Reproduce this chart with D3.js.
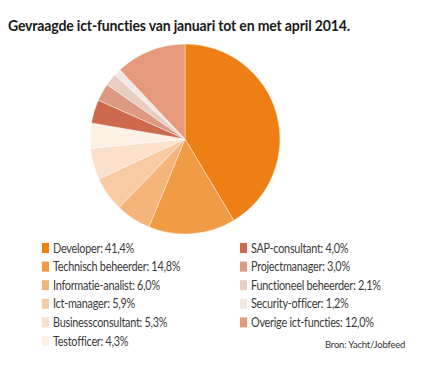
<!DOCTYPE html>
<html><head><meta charset="utf-8">
<script src="https://cdn.jsdelivr.net/npm/d3@7"></script>
<style>body{margin:0;background:#fff}svg{display:block}</style>
</head><body>
<svg id="c" width="443" height="387"></svg>
<script>
const categories = ["Developer","Technisch beheerder","Informatie-analist","Ict-manager","Businessconsultant","Testofficer","SAP-consultant","Projectmanager","Functioneel beheerder","Security-officer","Overige ict-functies"];
const values = [41.4,14.8,6.0,5.9,5.3,4.3,4.0,3.0,2.1,1.2,12.0];
const labels = ["41,4%","14,8%","6,0%","5,9%","5,3%","4,3%","4,0%","3,0%","2,1%","1,2%","12,0%"];
const colors = ["#EE7F14","#F29B45","#F5B47A","#F8CBA3","#FBE0CC","#FDF1E6","#CD6A4E","#DC9A82","#E8CDC1","#F3E8E3","#E59A7C"];

const svg = d3.select("#c");
svg.append("text").attr("transform","translate(8,31) scale(0.88,1)").attr("font-family","Lato").attr("font-weight","bold")
  .attr("font-size",16).attr("fill","#1a1a1a").attr("letter-spacing","-0.2")
  .text("Gevraagde ict-functies van januari tot en met april 2014.");

const data = categories.map((c,i)=>({c,v:values[i],l:labels[i],col:colors[i]}));
const pie = d3.pie().value(d=>d.v).sort(null);
const arc = d3.arc().innerRadius(0).outerRadius(95);
const g = svg.append("g").attr("transform","translate(185,139)");
g.selectAll("path").data(pie(data)).join("path").attr("d",arc).attr("fill",d=>d.data.col)
  .attr("stroke","#fff").attr("stroke-width",0.4);

const y = d3.scalePoint().domain(d3.range(6)).range([248,341]);
const leg = svg.append("g");
data.forEach((d,i)=>{
  const col = i<6?0:1, row = i<6?i:i-6;
  const x = col===0?42:240;
  const yy = y(row);
  leg.append("rect").attr("x",x).attr("y",yy-5).attr("width",7).attr("height",10).attr("fill",d.col);
  leg.append("text").attr("transform",`translate(${x+11},${yy+4.5}) scale(0.87,1)`).attr("font-family","Lato").attr("font-size",12.5)
    .attr("fill","#3a3a3a").attr("letter-spacing","-0.3").text(d.c+": "+d.l);
});
svg.append("text").attr("x",325).attr("y",348).attr("font-family","Lato").attr("font-size",9.5)
  .attr("fill","#333").attr("letter-spacing","-0.2").text("Bron: Yacht/Jobfeed");
</script>
</body></html>
